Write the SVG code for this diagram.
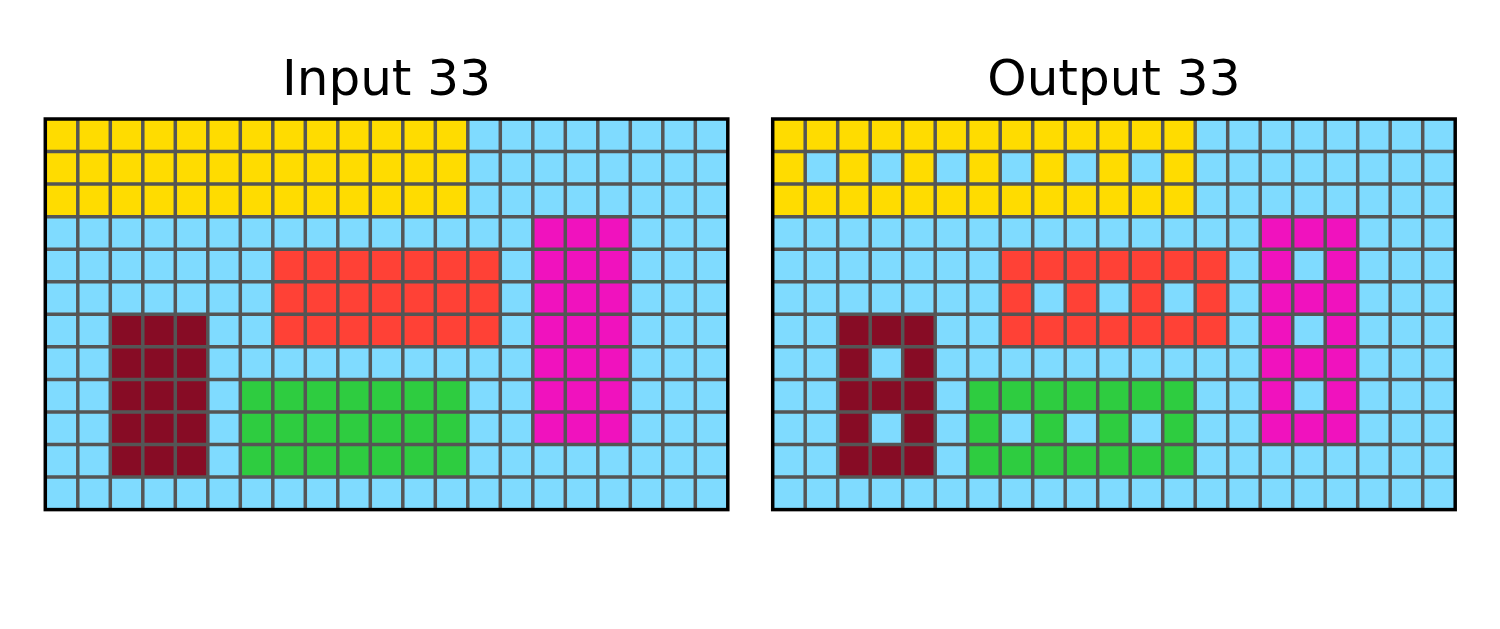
<svg xmlns="http://www.w3.org/2000/svg" xmlns:xlink="http://www.w3.org/1999/xlink" width="1500" height="629" viewBox="0 0 1500 629">
<style>
.t{font-family:"DejaVu Sans",sans-serif;font-size:50px;fill:#000;text-anchor:middle}
.b{fill:#7FDBFF}.y{fill:#FFDC00}.r{fill:#FF4136}.m{fill:#F012BE}.d{fill:#870C25}.g{fill:#2ECC40}
.gl{fill:none;stroke:#555555;stroke-width:3.5}
.bd{fill:none;stroke:#000;stroke-width:3.5}
</style>
<defs>
<path id="lines" class="gl" d="M77.8 119V509.6M110.3 119V509.6M142.8 119V509.6M175.3 119V509.6M207.8 119V509.6M240.3 119V509.6M272.8 119V509.6M305.3 119V509.6M337.8 119V509.6M370.3 119V509.6M402.8 119V509.6M435.3 119V509.6M467.8 119V509.6M500.3 119V509.6M532.8 119V509.6M565.3 119V509.6M597.8 119V509.6M630.3 119V509.6M662.8 119V509.6M695.3 119V509.6M45.3 151.55H727.8M45.3 184.1H727.8M45.3 216.65H727.8M45.3 249.2H727.8M45.3 281.75H727.8M45.3 314.3H727.8M45.3 346.85H727.8M45.3 379.4H727.8M45.3 411.95H727.8M45.3 444.5H727.8M45.3 477.05H727.8"/>
<g id="base">
<rect class="b" x="45.3" y="119" width="682.5" height="390.6"/>
<rect class="y" x="45.3" y="119" width="422.5" height="97.65"/>
<rect class="r" x="272.8" y="249.2" width="227.5" height="97.65"/>
<rect class="m" x="532.8" y="216.65" width="97.5" height="227.85"/>
<rect class="d" x="110.3" y="314.3" width="97.5" height="162.75"/>
<rect class="g" x="240.3" y="379.4" width="227.5" height="97.65"/>
</g>
</defs>
<rect width="1500" height="629" fill="#fff"/>
<g id="input">
<text class="t" x="386.5" y="95">Input 33</text>
<use xlink:href="#base"/>
<use xlink:href="#lines"/>
<rect class="bd" x="45.3" y="119" width="682.5" height="390.6"/>
</g>
<g id="output" transform="translate(727.4,0)">
<text class="t" x="386.5" y="95">Output 33</text>
<use xlink:href="#base"/>
<g class="b">
<rect x="77.8" y="151.55" width="32.5" height="32.55"/>
<rect x="142.8" y="151.55" width="32.5" height="32.55"/>
<rect x="207.8" y="151.55" width="32.5" height="32.55"/>
<rect x="272.8" y="151.55" width="32.5" height="32.55"/>
<rect x="337.8" y="151.55" width="32.5" height="32.55"/>
<rect x="402.8" y="151.55" width="32.5" height="32.55"/>
<rect x="305.3" y="281.75" width="32.5" height="32.55"/>
<rect x="370.3" y="281.75" width="32.5" height="32.55"/>
<rect x="435.3" y="281.75" width="32.5" height="32.55"/>
<rect x="565.3" y="249.2" width="32.5" height="32.55"/>
<rect x="565.3" y="314.3" width="32.5" height="32.55"/>
<rect x="565.3" y="379.4" width="32.5" height="32.55"/>
<rect x="142.8" y="346.85" width="32.5" height="32.55"/>
<rect x="142.8" y="411.95" width="32.5" height="32.55"/>
<rect x="272.8" y="411.95" width="32.5" height="32.55"/>
<rect x="337.8" y="411.95" width="32.5" height="32.55"/>
<rect x="402.8" y="411.95" width="32.5" height="32.55"/>
</g>
<use xlink:href="#lines"/>
<rect class="bd" x="45.3" y="119" width="682.5" height="390.6"/>
</g>
</svg>
